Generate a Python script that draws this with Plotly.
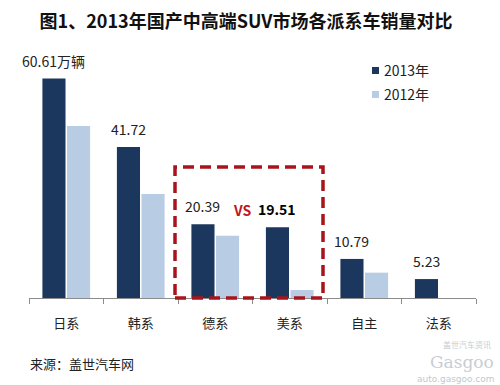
import plotly.graph_objects as go

categories = ["日系", "韩系", "德系", "美系", "自主", "法系"]
sales_2013 = [60.61, 41.72, 20.39, 19.51, 10.79, 5.23]
sales_2012 = [47.5, 28.7, 17.2, 2.2, 7.0, 0.0]
labels_2013 = ["60.61万辆", "41.72", "20.39", "19.51", "10.79", "5.23"]
series_names = ["2013年", "2012年"]

C13 = "#1B375E"
C12 = "#B8CCE4"
FONT = "Noto Sans CJK SC"

W, H = 500, 385
L, R, T, B = 29, 476, 60, 298  # plot area in pixels


def px(x):
    return (x - L) / (R - L)


def py(y):
    return (B - y) / (B - T)


fig = go.Figure()
fig.add_trace(go.Bar(x=categories, y=sales_2013, name=series_names[0],
                     marker=dict(color=C13, line=dict(width=0)), showlegend=False))
fig.add_trace(go.Bar(x=categories, y=sales_2012, name=series_names[1],
                     marker=dict(color=C12, line=dict(width=0)), showlegend=False))

annotations = []
for i, (c, v, t) in enumerate(zip(categories, sales_2013, labels_2013)):
    annotations.append(dict(
        x=c, y=v, xref="x", yref="y", text=("<b>%s</b>" % t) if c == "美系" else t,
        showarrow=False, xshift=-12.3, yshift=6, yanchor="bottom",
        font=dict(family=FONT, size=14, color="#000000" if c == "美系" else "#222222"),
    ))

# VS
annotations.append(dict(x=px(242), y=py(210), xref="paper", yref="paper", text="<b>VS</b>",
                        showarrow=False, font=dict(family=FONT, size=14, color="#C0161E")))

# legend (manual)
shapes = []
for j, (name, col) in enumerate(zip(series_names, [C13, C12])):
    yc = 70 + 24 * j
    shapes.append(dict(type="rect", xref="paper", yref="paper",
                       x0=px(372), x1=px(379), y0=py(yc + 4), y1=py(yc - 3),
                       fillcolor=col, line=dict(width=0)))
    annotations.append(dict(x=px(382), y=py(yc), xref="paper", yref="paper", text=name,
                            xanchor="left", yanchor="middle", showarrow=False,
                            font=dict(family=FONT, size=14, color="#222222")))

# source
annotations.append(dict(x=px(28), y=py(363), xref="paper", yref="paper", text="来源：盖世汽车网",
                        xanchor="left", yanchor="middle", showarrow=False,
                        font=dict(family=FONT, size=13, color="#222222")))

# watermark
annotations.append(dict(x=px(495), y=py(362), xref="paper", yref="paper", text="Gasgoo",
                        xanchor="right", yanchor="middle", showarrow=False, borderpad=0,
                        font=dict(family="DejaVu Serif", size=17, color="#C8CDD3")))
annotations.append(dict(x=px(492), y=py(344), xref="paper", yref="paper", text="盖世汽车资讯",
                        xanchor="right", yanchor="middle", showarrow=False, borderpad=0,
                        font=dict(family=FONT, size=8, color="#C8CDD3")))
annotations.append(dict(x=px(496), y=py(379), xref="paper", yref="paper", text="auto.gasgoo.com",
                        xanchor="right", yanchor="middle", showarrow=False, borderpad=0,
                        font=dict(family="DejaVu Sans", size=9, color="#C3C8CE")))

# dashed highlight box
shapes.append(dict(type="rect", xref="paper", yref="paper",
                   x0=px(175), x1=px(323), y0=py(298), y1=py(167),
                   line=dict(color="#A8141B", width=3.5, dash="11px,6px"),
                   fillcolor="rgba(0,0,0,0)"))

fig.update_layout(
    width=W, height=H,
    margin=dict(l=L, r=W - R, t=T, b=H - B),
    paper_bgcolor="white", plot_bgcolor="white",
    barmode="group", bargap=0.34, bargroupgap=0.06,
    title=dict(text="<b>图1、2013年国产中高端SUV市场各派系车销量对比</b>",
               x=246 / W, xanchor="center", y=1 - 22 / H, yanchor="middle",
               font=dict(family=FONT, size=18, color="#111111")),
    xaxis=dict(range=[-0.5, len(categories) - 0.5], autorange=False,
               showline=True, linecolor="#8C8C8C", linewidth=1,
               ticks="outside", tickson="boundaries", ticklen=5, tickcolor="#8C8C8C",
               ticklabelstandoff=13,
               tickfont=dict(family=FONT, size=13, color="#222222"),
               showgrid=False, zeroline=False),
    yaxis=dict(visible=False, range=[0, 238 / 3.62], autorange=False,
               showgrid=False, zeroline=False),
    annotations=annotations, shapes=shapes,
    showlegend=False,
)

fig.write_html("out.html", config={"displayModeBar": False},
               post_script="document.body.style.margin='0';document.body.style.padding='0';")
